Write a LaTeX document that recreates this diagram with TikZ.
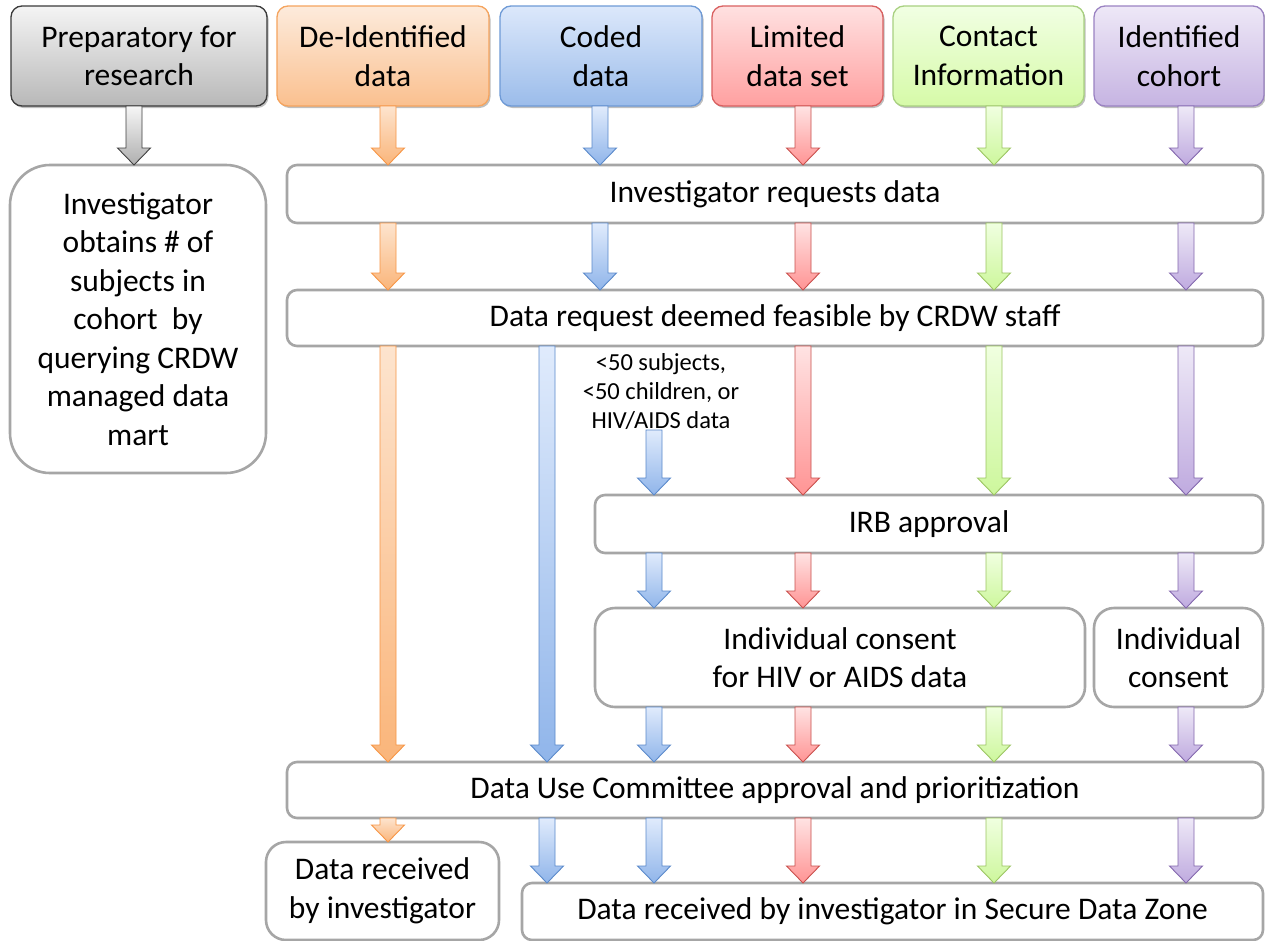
\documentclass[tikz,border=0pt]{standalone}
\usepackage{fontspec}
\setmainfont{Carlito}
\usetikzlibrary{calc,shadows}
\definecolor{wbord}{HTML}{A6A6A6}
% header colours
\definecolor{gtop}{HTML}{F4F4F4}\definecolor{gbot}{HTML}{B8B8B8}\definecolor{gbrd}{HTML}{3A3A3A}
\definecolor{otop}{HTML}{FDEBDC}\definecolor{obot}{HTML}{FAC08F}\definecolor{obrd}{HTML}{F5A45E}
\definecolor{btop}{HTML}{DCE8FB}\definecolor{bbot}{HTML}{9BBCEA}\definecolor{bbrd}{HTML}{6E9AD6}
\definecolor{rtop}{HTML}{FFE1E1}\definecolor{rbot}{HTML}{FFA0A0}\definecolor{rbrd}{HTML}{D96060}
\definecolor{ctop}{HTML}{F1FFE3}\definecolor{cbot}{HTML}{D6FAA8}\definecolor{cbrd}{HTML}{A8D080}
\definecolor{ptop}{HTML}{EEE8F7}\definecolor{pbot}{HTML}{C6B4E2}\definecolor{pbrd}{HTML}{9A82C2}
% arrow colours
\definecolor{oatop}{HTML}{FDE4CE}\definecolor{oabot}{HTML}{FAB57A}\definecolor{oabrd}{HTML}{F79646}
\definecolor{batop}{HTML}{E0EBFC}\definecolor{babot}{HTML}{90B5EA}\definecolor{babrd}{HTML}{5B8ACB}
\definecolor{ratop}{HTML}{FFE3E3}\definecolor{rabot}{HTML}{FF9494}\definecolor{rabrd}{HTML}{C9504D}
\definecolor{catop}{HTML}{F0FFE0}\definecolor{cabot}{HTML}{CDF79C}\definecolor{cabrd}{HTML}{9CC563}
\definecolor{patop}{HTML}{EEE9F7}\definecolor{pabot}{HTML}{BFAADF}\definecolor{pabrd}{HTML}{8468AE}
\definecolor{gatop}{HTML}{F6F6F6}\definecolor{gabot}{HTML}{AFAFAF}\definecolor{gabrd}{HTML}{404040}

\tikzset{
  base/.style={inner sep=0pt, outer sep=0pt, align=center, font=\fontsize{31.5}{38.5}\selectfont},
  hdr/.style={base, rounded corners=11pt, line width=1.3pt,
     drop shadow={shadow xshift=1.5pt, shadow yshift=-2pt, opacity=0.25, fill=black}},
  hgray/.style={hdr, draw=gbrd, top color=gtop, bottom color=gbot},
  horange/.style={hdr, draw=obrd, top color=otop, bottom color=obot},
  hblue/.style={hdr, draw=bbrd, top color=btop, bottom color=bbot},
  hred/.style={hdr, draw=rbrd, top color=rtop, bottom color=rbot},
  hgreen/.style={hdr, draw=cbrd, top color=ctop, bottom color=cbot},
  hpurple/.style={hdr, draw=pbrd, top color=ptop, bottom color=pbot},
  wbox/.style={base, draw=wbord, line width=2.6pt, fill=white, rounded corners=10pt},
  note/.style={inner sep=0pt, outer sep=0pt, align=center, font=\fontsize{24.5}{29}\selectfont},
  aorange/.style={draw=oabrd, line width=0.9pt, top color=oatop, bottom color=oabot},
  ablue/.style={draw=babrd, line width=0.9pt, top color=batop, bottom color=babot},
  ared/.style={draw=rabrd, line width=0.9pt, top color=ratop, bottom color=rabot},
  agreen/.style={draw=cabrd, line width=0.9pt, top color=catop, bottom color=cabot},
  apurple/.style={draw=pabrd, line width=0.9pt, top color=patop, bottom color=pabot},
  agray/.style={draw=gabrd, line width=0.9pt, top color=gatop, bottom color=gabot},
}
% #1 style, #2 name, #3 x1, #4 y1, #5 x2, #6 y2, #7 text
\newcommand\mybox[7]{\node[#1, minimum width={(#5-#3)*1pt}, minimum height={(#6-#4)*1pt}] (#2) at ({(#3+#5)/2},{(#4+#6)/2}) {#7};}
% #1 style, #2 x, #3 source anchor, #4 target anchor
\newcommand\blockarrow[4]{%
  \path[#1] let \p1=(#3), \p2=(#4) in
    (#2pt-8pt,\y1) -- (#2pt+8pt,\y1) -- (#2pt+8pt,\y2+17pt) -- (#2pt+16.5pt,\y2+17pt)
    -- (#2pt,\y2) -- (#2pt-16.5pt,\y2+17pt) -- (#2pt-8pt,\y2+17pt) -- cycle;}

\begin{document}
\begin{tikzpicture}[x=1pt,y=-1pt]
\useasboundingbox (0,0) rectangle (1265,940);
\fill[white] (0,0) rectangle (1265,940);

% header boxes
\mybox{hgray}{hprep}{11}{6}{267}{106}{Preparatory for\\research}
\mybox{horange}{hdeid}{277}{6}{489}{106}{De-Identified\\data}
\mybox{hblue}{hcoded}{500}{6}{702}{106}{Coded\\data}
\mybox{hred}{hlim}{712}{6}{883}{106}{Limited\\data set}
\mybox{hgreen}{hcont}{893}{6}{1084}{106}{Contact\\Information}
\mybox{hpurple}{hident}{1094}{6}{1264}{106}{Identified\\cohort}

% process boxes
\mybox{wbox, rounded corners=40pt}{obtain}{10}{165}{266}{473}{Investigator\\obtains \# of\\subjects in\\cohort~ by\\querying CRDW\\managed data\\mart}
\mybox{wbox}{req}{287}{165}{1263}{223}{Investigator requests data}
\mybox{wbox}{feas}{287}{290}{1263}{346}{Data request deemed feasible by CRDW staff}
\mybox{wbox}{irb}{595}{495}{1263}{553}{IRB approval}
\mybox{wbox, rounded corners=20pt}{ihiv}{595}{608}{1085}{707}{Individual consent\\for HIV or AIDS data}
\mybox{wbox, rounded corners=20pt}{icons}{1094}{608}{1263}{707}{Individual\\consent}
\mybox{wbox}{duc}{287}{762}{1263}{818}{Data Use Committee approval and prioritization}
\mybox{wbox, rounded corners=20pt}{drecv}{266}{842}{499}{940}{Data received\\by investigator}
\mybox{wbox}{secure}{522}{883}{1263}{940}{Data received by investigator in Secure Data Zone}

\node[note] (crit) at (661,392) {<50 subjects,\\<50 children, or\\HIV/AIDS data};

% arrows: header -> first boxes
\blockarrow{agray}{134}{hprep.south}{obtain.north}
\blockarrow{aorange}{388}{hdeid.south}{req.north}
\blockarrow{ablue}{600}{hcoded.south}{req.north}
\blockarrow{ared}{803}{hlim.south}{req.north}
\blockarrow{agreen}{994}{hcont.south}{req.north}
\blockarrow{apurple}{1186}{hident.south}{req.north}
% req -> feas
\blockarrow{aorange}{388}{req.south}{feas.north}
\blockarrow{ablue}{600}{req.south}{feas.north}
\blockarrow{ared}{803}{req.south}{feas.north}
\blockarrow{agreen}{994}{req.south}{feas.north}
\blockarrow{apurple}{1186}{req.south}{feas.north}
% feas -> ...
\blockarrow{aorange}{388}{feas.south}{duc.north}
\blockarrow{ablue}{547}{feas.south}{duc.north}
\blockarrow{ablue}{654}{crit.south}{irb.north}
\blockarrow{ared}{803}{feas.south}{irb.north}
\blockarrow{agreen}{994}{feas.south}{irb.north}
\blockarrow{apurple}{1186}{feas.south}{irb.north}
% irb -> consent
\blockarrow{ablue}{654}{irb.south}{ihiv.north}
\blockarrow{ared}{803}{irb.south}{ihiv.north}
\blockarrow{agreen}{994}{irb.south}{ihiv.north}
\blockarrow{apurple}{1186}{irb.south}{icons.north}
% consent -> duc
\blockarrow{ablue}{654}{ihiv.south}{duc.north}
\blockarrow{ared}{803}{ihiv.south}{duc.north}
\blockarrow{agreen}{994}{ihiv.south}{duc.north}
\blockarrow{apurple}{1186}{icons.south}{duc.north}
% duc -> received
\blockarrow{aorange}{388}{duc.south}{drecv.north}
\blockarrow{ablue}{547}{duc.south}{secure.north}
\blockarrow{ablue}{654}{duc.south}{secure.north}
\blockarrow{ared}{803}{duc.south}{secure.north}
\blockarrow{agreen}{994}{duc.south}{secure.north}
\blockarrow{apurple}{1186}{duc.south}{secure.north}
\end{tikzpicture}
\end{document}
